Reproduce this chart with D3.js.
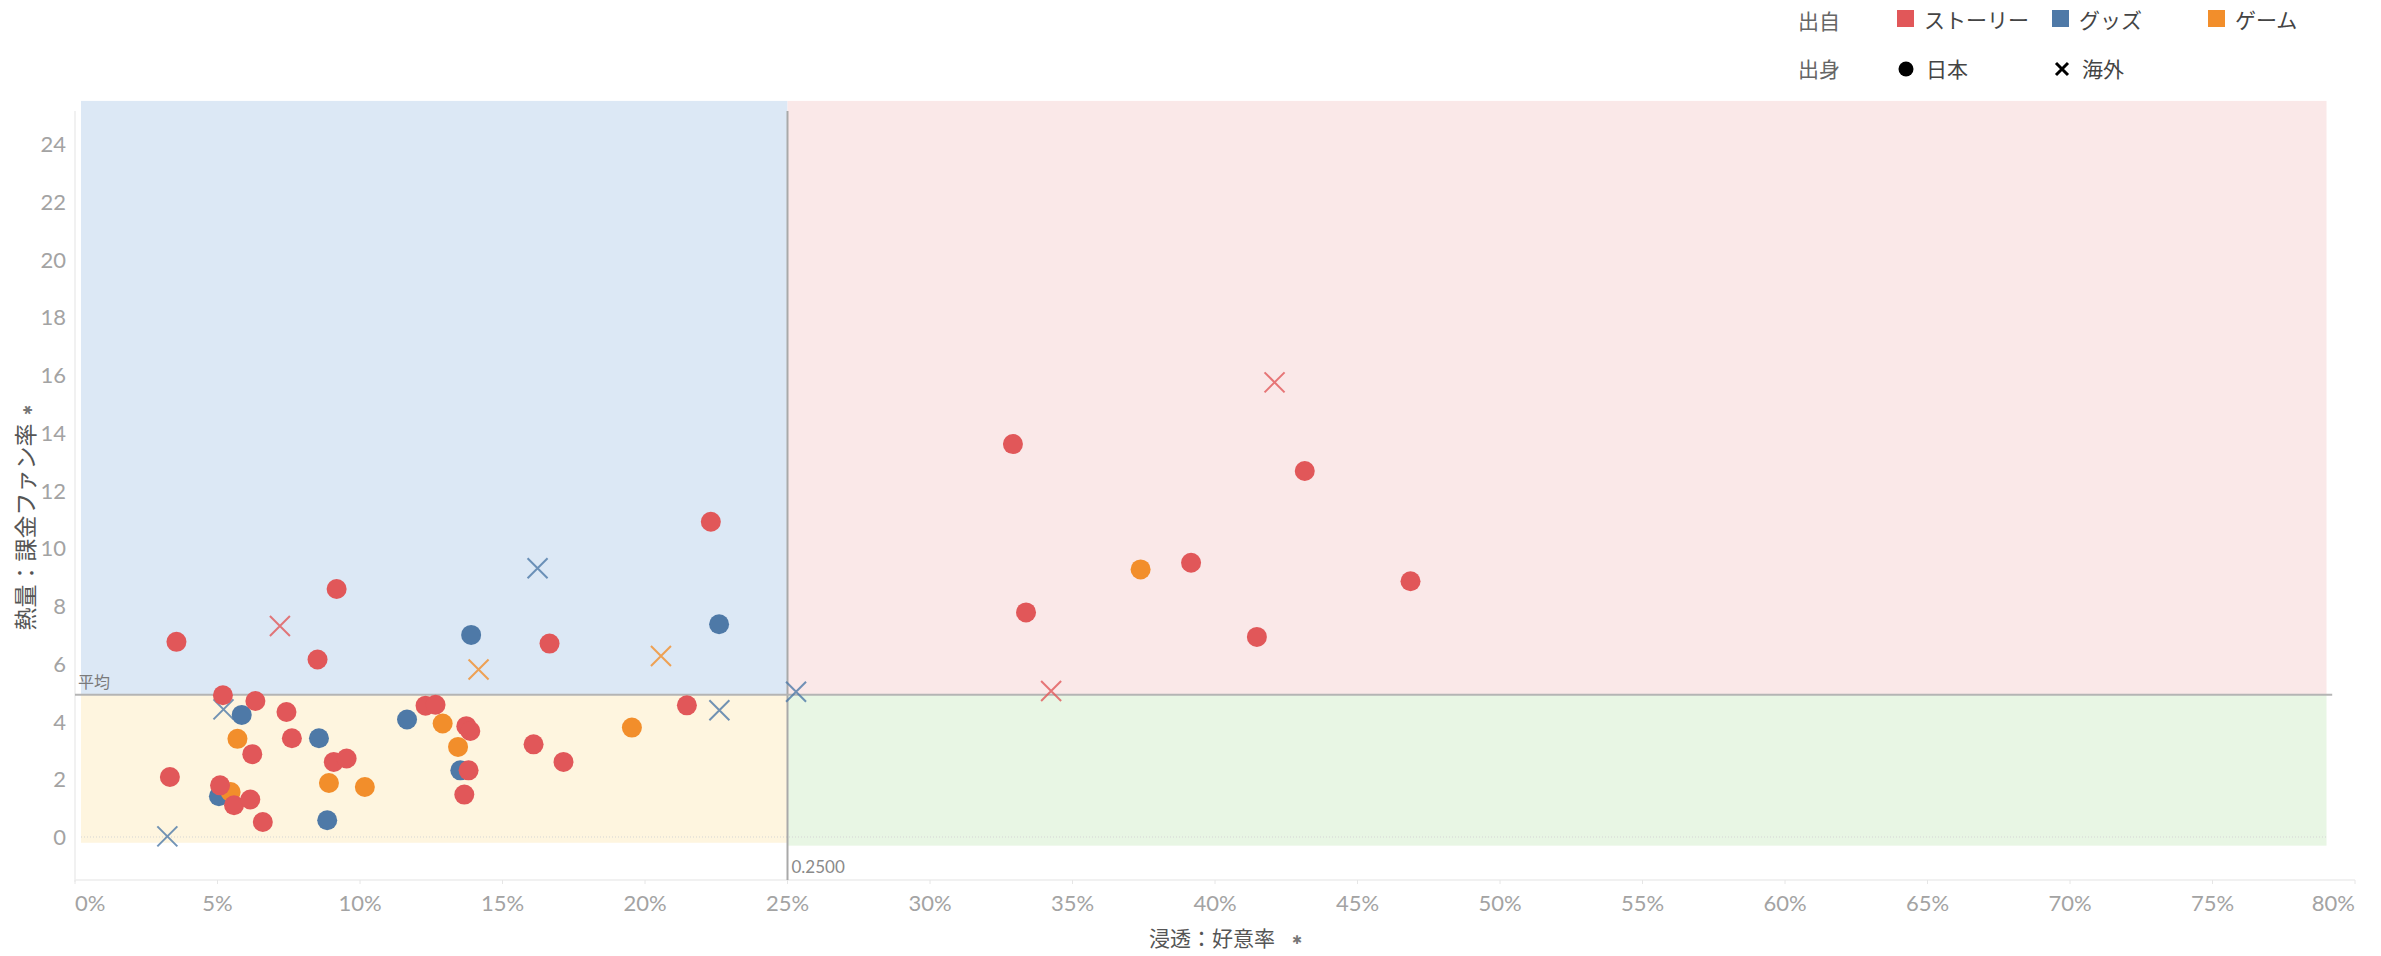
<!DOCTYPE html>
<html>
<head>
<meta charset="utf-8">
<script src="https://cdn.jsdelivr.net/npm/d3@7"></script>
<style>
  body { margin: 0; background: #fff; }
  svg text { font-family: "Lato", "Noto Sans", sans-serif; }
  .cjk { font-family: "Noto Sans CJK JP", "Noto Sans", sans-serif; }
</style>
</head>
<body>
<div id="chart"></div>
<script>
// data: [好意率, 課金ファン率] per origin (出自) and birthplace (出身)
var storyJapan = [
  [0.0356, 6.76], [0.0918, 8.59], [0.0851, 6.15], [0.0519, 4.91], [0.0633, 4.71],
  [0.0742, 4.33], [0.0761, 3.42], [0.0622, 2.87], [0.0333, 2.08], [0.0509, 1.79],
  [0.0558, 1.10], [0.0615, 1.30], [0.0659, 0.52], [0.0908, 2.60], [0.0953, 2.72],
  [0.1230, 4.55], [0.1265, 4.58], [0.1373, 3.84], [0.1387, 3.67], [0.1381, 2.31],
  [0.1366, 1.47], [0.2231, 10.92], [0.1665, 6.70], [0.2147, 4.56], [0.1609, 3.21],
  [0.1714, 2.60], [0.3291, 13.61], [0.4315, 12.68], [0.3916, 9.50], [0.4686, 8.86],
  [0.3337, 7.78], [0.4147, 6.93]
];
var storyOverseas = [[0.0719, 7.31], [0.4209, 15.75], [0.3425, 5.06]];
var goodsJapan = [
  [0.1390, 7.00], [0.0585, 4.23], [0.0856, 3.42], [0.0505, 1.41],
  [0.0885, 0.58], [0.1165, 4.07], [0.1352, 2.31], [0.2260, 7.37]
];
var goodsOverseas = [[0.0521, 4.42], [0.0324, 0.02], [0.1623, 9.31], [0.2530, 5.03], [0.2261, 4.39]];
var gameJapan = [
  [0.0570, 3.40], [0.0546, 1.56], [0.0891, 1.87], [0.1017, 1.73],
  [0.1290, 3.93], [0.1344, 3.12], [0.1954, 3.79], [0.3739, 9.27]
];
var gameOverseas = [[0.1416, 5.80], [0.2056, 6.27]];

var origins = ["ストーリー", "グッズ", "ゲーム"];
var originColors = ["#e15759", "#4e79a7", "#f28e2b"];
var birthplaces = ["日本", "海外"];

var xTicks = d3.range(0, 0.801, 0.05);
var yTicks = d3.range(0, 25, 2);

// reference values
var favorLine = 0.25;   // vertical reference
var fanAverage = 4.93;  // 平均

var width = 2381, height = 956;

var svg = d3.select("#chart")
    .append("svg")
    .attr("width", width)
    .attr("height", height);

var x = d3.scaleLinear().domain([0, 0.8]).range([75, 2355]);
var y = d3.scaleLinear().domain([-1.49, 25.15]).range([880, 111]);

// quadrant backgrounds
var bandLeft = 0.0021, bandRight = 0.79, bandTop = 25.5;
var bands = [
  {x0: bandLeft, x1: favorLine, y0: fanAverage, y1: bandTop, fill: "#dce8f5"},
  {x0: favorLine, x1: bandRight, y0: fanAverage, y1: bandTop, fill: "#fae8e8"},
  {x0: bandLeft, x1: favorLine, y0: -0.2, y1: fanAverage, fill: "#fef5df"},
  {x0: favorLine, x1: bandRight, y0: -0.3, y1: fanAverage, fill: "#e8f6e4"}
];
svg.selectAll("rect.band")
    .data(bands)
    .enter()
    .append("rect")
    .attr("class", "band")
    .attr("x", function(d){ return x(d.x0) })
    .attr("y", function(d){ return y(d.y1) })
    .attr("width", function(d){ return x(d.x1) - x(d.x0) })
    .attr("height", function(d){ return y(d.y0) - y(d.y1) })
    .style("fill", function(d){ return d.fill })

// zero line (dotted)
svg.append("line")
    .attr("x1", x(bandLeft)).attr("x2", x(bandRight))
    .attr("y1", y(0)).attr("y2", y(0))
    .attr("stroke", "#d4d4d4")
    .attr("stroke-dasharray", "1,2")

// axis lines
svg.append("line")
    .attr("x1", x(0)).attr("x2", x(0))
    .attr("y1", y(25.15)).attr("y2", y(-1.55))
    .attr("stroke", "#ececec").attr("stroke-width", 1.5)
svg.append("line")
    .attr("x1", x(0)).attr("x2", x(0.8))
    .attr("y1", y(-1.49)).attr("y2", y(-1.49))
    .attr("stroke", "#ececec").attr("stroke-width", 1.5)

// x axis ticks + labels
var xAxis = svg.append("g")
xAxis.selectAll("line")
    .data(xTicks)
    .enter()
    .append("line")
    .attr("x1", function(d){ return x(d) })
    .attr("x2", function(d){ return x(d) })
    .attr("y1", y(-1.49)).attr("y2", y(-1.49) + 4)
    .attr("stroke", "#e6e6e6")
xAxis.selectAll("text")
    .data(xTicks)
    .enter()
    .append("text")
    .attr("x", function(d){ return x(d) })
    .attr("y", 911)
    .text(d3.format(".0%"))
    .style("font-size", "22px")
    .style("fill", "#a3a3a3")
    .style("text-anchor", function(d, i){ return i == 0 ? "start" : (i == xTicks.length - 1 ? "end" : "middle") })

// y axis labels
svg.append("g")
    .selectAll("text")
    .data(yTicks)
    .enter()
    .append("text")
    .attr("x", 66)
    .attr("y", function(d){ return y(d) + 8 })
    .text(function(d){ return d })
    .style("font-size", "22px")
    .style("fill", "#a3a3a3")
    .style("text-anchor", "end")

// reference lines
svg.append("line")
    .attr("x1", x(favorLine)).attr("x2", x(favorLine))
    .attr("y1", y(25.15)).attr("y2", y(-1.49))
    .attr("stroke", "#a9a9a9").attr("stroke-width", 2)
svg.append("line")
    .attr("x1", x(0)).attr("x2", x(0.792))
    .attr("y1", y(fanAverage)).attr("y2", y(fanAverage))
    .attr("stroke", "#b4b4b4").attr("stroke-width", 2)

svg.append("text")
    .attr("class", "cjk")
    .attr("x", x(0) + 3)
    .attr("y", y(fanAverage) - 7)
    .text("平均")
    .style("font-size", "16px")
    .style("fill", "#7a7a7a")
svg.append("text")
    .attr("x", x(favorLine) + 4)
    .attr("y", 873)
    .text(d3.format(".4f")(favorLine))
    .style("font-size", "17px")
    .style("fill", "#8a8a8a")

// marks
var crossSize = 10;
function drawCrosses(data, color) {
  svg.append("g")
    .selectAll("path")
    .data(data)
    .enter()
    .append("path")
    .attr("d", function(d){
      var cx = x(d[0]), cy = y(d[1]), s = crossSize;
      return ["M", cx - s, cy - s, "L", cx + s, cy + s, "M", cx - s, cy + s, "L", cx + s, cy - s].join(" ");
    })
    .attr("fill", "none")
    .attr("stroke", color)
    .attr("stroke-width", 2)
    .attr("opacity", 0.8)
}
function drawCircles(data, color) {
  svg.append("g")
    .selectAll("circle")
    .data(data)
    .enter()
    .append("circle")
    .attr("cx", function(d){ return x(d[0]) })
    .attr("cy", function(d){ return y(d[1]) })
    .attr("r", 10)
    .style("fill", color)
}

drawCrosses(goodsOverseas, originColors[1])
drawCrosses(gameOverseas, originColors[2])
drawCrosses(storyOverseas, originColors[0])
drawCircles(goodsJapan, originColors[1])
drawCircles(gameJapan, originColors[2])
drawCircles(storyJapan, originColors[0])

// axis titles
svg.append("text")
    .attr("class", "cjk")
    .attr("x", 1149)
    .attr("y", 946)
    .text("浸透：好意率")
    .style("font-size", "21px")
    .style("fill", "#555")
svg.append("text")
    .attr("x", 1292)
    .attr("y", 944)
    .text("✱")
    .style("font-size", "12px")
    .style("fill", "#777")

svg.append("g")
    .attr("transform", "translate(34,527) rotate(-90)")
    .call(function(g){
      g.append("text")
        .attr("class", "cjk")
        .attr("x", 0).attr("y", 0)
        .text("熱量：課金ファン率")
        .style("font-size", "23px")
        .style("fill", "#555")
        .style("text-anchor", "middle")
      g.append("text")
        .attr("x", 112).attr("y", -2)
        .text("✱")
        .style("font-size", "12px")
        .style("fill", "#777")
    })

// legend
var legend = svg.append("g")
legend.append("text").attr("class", "cjk")
    .attr("x", 1798).attr("y", 29).text("出自")
    .style("font-size", "21px").style("fill", "#666")
legend.append("text").attr("class", "cjk")
    .attr("x", 1798).attr("y", 77).text("出身")
    .style("font-size", "21px").style("fill", "#666")

var originX = [1897, 2052, 2208];
origins.forEach(function(name, i){
  legend.append("rect")
    .attr("x", originX[i]).attr("y", 10)
    .attr("width", 17).attr("height", 17)
    .style("fill", originColors[i])
  legend.append("text").attr("class", "cjk")
    .attr("x", originX[i] + 27).attr("y", 28)
    .text(name)
    .style("font-size", "21px").style("fill", "#444")
})

var birthX = [1906, 2062];
legend.append("circle")
    .attr("cx", birthX[0]).attr("cy", 69).attr("r", 7.5)
    .style("fill", "#000")
legend.append("path")
    .attr("d", ["M", birthX[1] - 6, 63, "L", birthX[1] + 6, 75, "M", birthX[1] - 6, 75, "L", birthX[1] + 6, 63].join(" "))
    .attr("stroke", "#000").attr("stroke-width", 3)
birthplaces.forEach(function(name, i){
  legend.append("text").attr("class", "cjk")
    .attr("x", birthX[i] + 20).attr("y", 77)
    .text(name)
    .style("font-size", "21px").style("fill", "#444")
})
</script>
</body>
</html>
